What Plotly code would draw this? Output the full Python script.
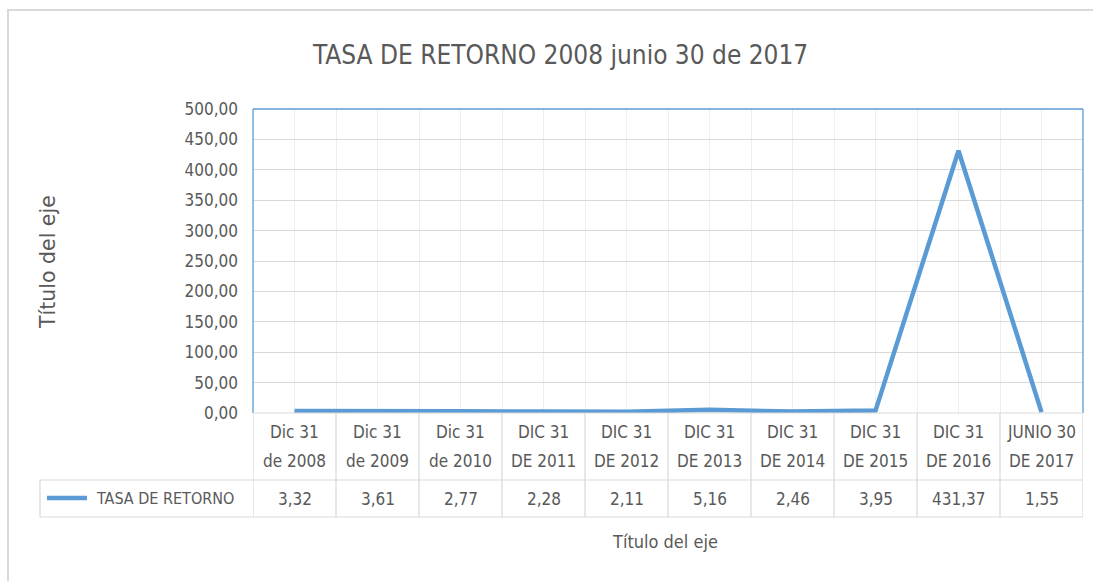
import plotly.graph_objects as go

categories = ["Dic 31\nde 2008", "Dic 31\nde 2009", "Dic 31\nde 2010", "DIC 31\nDE 2011",
              "DIC 31\nDE 2012", "DIC 31\nDE 2013", "DIC 31\nDE 2014", "DIC 31\nDE 2015",
              "DIC 31\nDE 2016", "JUNIO 30\nDE 2017"]
values = [3.32, 3.61, 2.77, 2.28, 2.11, 5.16, 2.46, 3.95, 431.37, 1.55]
series_name = "TASA DE RETORNO"
title_text = "TASA DE RETORNO 2008 junio 30 de 2017"
axis_title = "Título del eje"
y_ticks = [0, 50, 100, 150, 200, 250, 300, 350, 400, 450, 500]

W, H = 1093, 581
L, R, T, B = 253, 1083, 109, 413
pw, ph = R - L, B - T

FONT = "DejaVu Sans Condensed, sans-serif"
TXT = "#595959"
GRID_H = "#d9d9d9"
GRID_V = "#efefef"
BLUE = "#5B9BD5"

def px2py(py):
    return (B - py) / ph

def px2px(px):
    return (px - L) / pw

n = len(categories)
xs = list(range(n))

fig = go.Figure()
fig.add_trace(go.Scatter(x=xs, y=values, mode="lines", name=series_name,
                         line=dict(color=BLUE, width=4.5), showlegend=False,
                         hoverinfo="skip", cliponaxis=False))

shapes = []
shapes.append(dict(type="rect", xref="paper", yref="paper",
                   x0=px2px(8), x1=px2px(1200), y0=px2py(700), y1=px2py(10),
                   line=dict(color="#d9d9d9", width=2), layer="below"))
for (x0, y0, x1, y1) in [(0, 1, 1, 1), (0, 0, 0, 1), (1, 0, 1, 1)]:
    shapes.append(dict(type="line", xref="paper", yref="paper", x0=x0, x1=x1, y0=y0, y1=y1,
                       line=dict(color=BLUE, width=1.3)))
row1, row2 = 480, 517
tcol = "#d9d9d9"
shapes.append(dict(type="line", xref="x", yref="paper", x0=-0.5, x1=n - 0.5,
                   y0=0, y1=0, line=dict(color=tcol, width=1.2)))
for yy in (row1, row2):
    shapes.append(dict(type="line", xref="paper", yref="paper", x0=px2px(40), x1=1,
                       y0=px2py(yy), y1=px2py(yy), line=dict(color=tcol, width=1.2)))
for k in range(n + 1):
    shapes.append(dict(type="line", xref="x", yref="paper", x0=k - 0.5, x1=k - 0.5,
                       y0=0, y1=px2py(row2), line=dict(color=tcol, width=1.2)))
shapes.append(dict(type="line", xref="paper", yref="paper", x0=px2px(40), x1=px2px(40),
                   y0=px2py(row1), y1=px2py(row2), line=dict(color=tcol, width=1.2)))
shapes.append(dict(type="line", xref="paper", yref="paper", x0=px2px(47), x1=px2px(87),
                   y0=px2py(498), y1=px2py(498), line=dict(color=BLUE, width=4.5)))

annotations = []
for i, c in enumerate(categories):
    top, bot = c.split("\n")
    annotations.append(dict(x=i, y=px2py(432), xref="x", yref="paper", text=top,
                            showarrow=False, font=dict(family=FONT, size=17, color=TXT),
                            xanchor="center", yanchor="middle"))
    annotations.append(dict(x=i, y=px2py(461), xref="x", yref="paper", text=bot,
                            showarrow=False, font=dict(family=FONT, size=17, color=TXT),
                            xanchor="center", yanchor="middle"))
    annotations.append(dict(x=i, y=px2py(499), xref="x", yref="paper",
                            text=f"{values[i]:.2f}".replace(".", ","),
                            showarrow=False, font=dict(family=FONT, size=17, color=TXT),
                            xanchor="center", yanchor="middle"))
annotations.append(dict(x=px2px(94), y=px2py(498), xref="paper", yref="paper", text=series_name,
                        showarrow=False, font=dict(family=FONT, size=16, color=TXT),
                        xanchor="left", yanchor="middle"))
annotations.append(dict(x=px2px(665), y=px2py(541), xref="paper", yref="paper", text=axis_title,
                        showarrow=False, font=dict(family=FONT, size=18, color=TXT),
                        xanchor="center", yanchor="middle"))
annotations.append(dict(x=px2px(48), y=px2py(262), xref="paper", yref="paper", text=axis_title,
                        showarrow=False, textangle=-90,
                        font=dict(family="DejaVu Sans", size=20.5, color=TXT),
                        xanchor="center", yanchor="middle"))
annotations.append(dict(x=px2px(560), y=px2py(55), xref="paper", yref="paper", text=title_text,
                        showarrow=False, font=dict(family=FONT, size=26, color=TXT),
                        xanchor="center", yanchor="middle"))

fig.update_layout(
    width=W, height=H,
    margin=dict(l=L, r=W - R, t=T, b=H - B),
    paper_bgcolor="white", plot_bgcolor="white",
    separators=",.",
    shapes=shapes, annotations=annotations,
    xaxis=dict(range=[-0.5, n - 0.5], showticklabels=False, tick0=-0.5, dtick=0.5,
               showgrid=True, gridcolor=GRID_V, gridwidth=1, zeroline=False,
               showline=False, fixedrange=True),
    yaxis=dict(range=[0, 500], tickvals=y_ticks, tickformat=".2f",
               showgrid=True, gridcolor=GRID_H, gridwidth=1.2, zeroline=False,
               showline=False, ticks="", ticklabelstandoff=14,
               tickfont=dict(family=FONT, size=17, color=TXT), fixedrange=True),
)

fig.write_html("out.html", config={"displayModeBar": False},
               post_script="document.body.style.margin='0';document.body.style.overflow='hidden';")
